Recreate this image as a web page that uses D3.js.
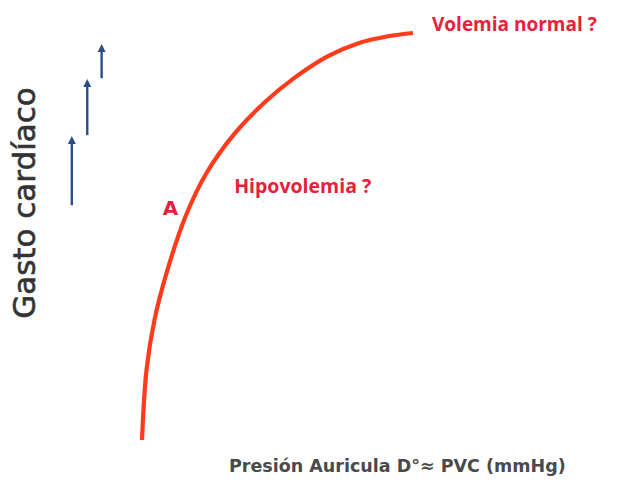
<!DOCTYPE html>
<html><head><meta charset="utf-8">
<script src="https://cdn.jsdelivr.net/npm/d3@7"></script>
<style>html,body{margin:0;padding:0;background:#fff;}</style>
</head><body>
<svg id="c" width="620" height="487"></svg>
<script>
// Curve: presión (x) vs gasto cardíaco (y), arbitrary units 0..100
const pressure = [0, 1.66, 4.61, 9.04, 16.05, 23.8, 34.3, 45.0, 56.1, 68.3, 80.4, 90.8, 100];
const output   = [0, 17.2, 29.5, 41.0, 54.9, 65.6, 75.4, 82.8, 88.9, 94.2, 97.6, 99.2, 100];
// Arrows (x, y from, y to)
const arrowX    = [-25.9, -20.2, -14.9];
const arrowFrom = [57.7, 74.9, 88.9];
const arrowTo   = [74.7, 88.7, 97.3];
// Labels
const labelText = ["A", "Hipovolemia ?", "Volemia normal ?"];
const labelX    = [7.7, 34.0, 107.0];
const labelY    = [55.3, 60.8, 100.5];
const xTitle = "Presión Auricula D°≈ PVC (mmHg)";
const yTitle = "Gasto cardíaco";

const svg = d3.select("#c");
const x = d3.scaleLinear().domain([0, 100]).range([142, 413]);
const y = d3.scaleLinear().domain([0, 100]).range([440, 33]);

const pts = pressure.map((p, i) => [p, output[i]]);
svg.append("path")
  .datum(pts)
  .attr("d", d3.line().x(d => x(d[0])).y(d => y(d[1])).curve(d3.curveCatmullRom.alpha(0.5)))
  .attr("fill", "none")
  .attr("stroke", "#ff3b1c")
  .attr("stroke-width", 4.2)
  .attr("stroke-linecap", "butt");

const blue = "#2c4d8c";
arrowX.forEach((ax, i) => {
  const px = x(ax), y0 = y(arrowFrom[i]), y1 = y(arrowTo[i]);
  svg.append("line")
    .attr("x1", px).attr("x2", px)
    .attr("y1", y0).attr("y2", y1 + 6)
    .attr("stroke", blue).attr("stroke-width", 2.4);
  svg.append("path")
    .attr("d", `M${px},${y1} L${px - 4},${y1 + 8} L${px + 4},${y1 + 8} Z`)
    .attr("fill", blue);
});

const lblFont = "'Open Sans', sans-serif";
const red = "#e8203c";
svg.append("text").attr("x", x(labelX[0])).attr("y", y(labelY[0]))
  .text(labelText[0]).attr("font-family", "'DejaVu Sans', sans-serif").attr("font-weight", "bold")
  .attr("font-size", 20).attr("fill", red);
svg.append("text").attr("x", x(labelX[1])).attr("y", y(labelY[1]))
  .text(labelText[1]).attr("font-family", lblFont).attr("font-weight", "bold")
  .attr("font-size", 19.5).attr("fill", red);
svg.append("text").attr("x", x(labelX[2])).attr("y", y(labelY[2]))
  .text(labelText[2]).attr("font-family", lblFont).attr("font-weight", "bold")
  .attr("font-size", 19).attr("fill", red);

svg.append("text").attr("x", 229).attr("y", 472)
  .text(xTitle).attr("font-family", "'DejaVu Sans', sans-serif").attr("font-weight", "bold")
  .attr("font-size", 17.5).attr("fill", "#4a4a4a");

svg.append("text").attr("transform", "translate(35,203) rotate(-90)")
  .attr("text-anchor", "middle")
  .text(yTitle).attr("font-family", "'DejaVu Sans', sans-serif")
  .attr("font-size", 31).attr("fill", "#333")
  .attr("stroke", "#333").attr("stroke-width", 0.6);
</script>
</body></html>
